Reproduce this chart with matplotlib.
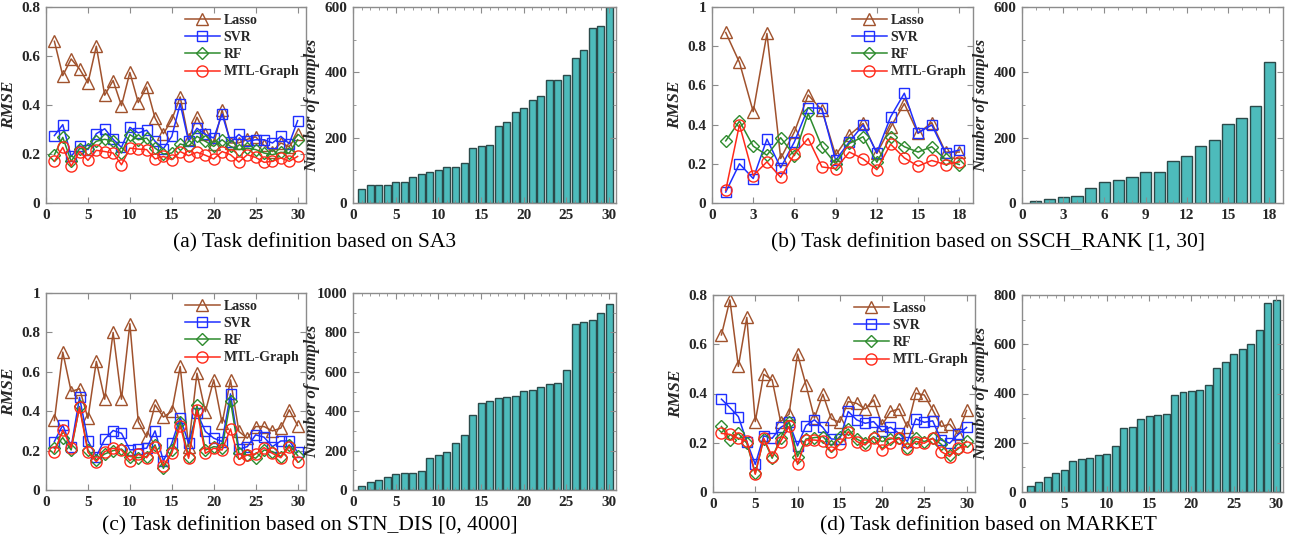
import numpy as np
import matplotlib
matplotlib.use("Agg")
import matplotlib.pyplot as plt
from matplotlib.ticker import MultipleLocator, FuncFormatter, AutoMinorLocator

plt.rcParams['font.family'] = ['Liberation Serif', 'DejaVu Serif']

methods = ["Lasso", "SVR", "RF", "MTL-Graph"]

# ---------- (a) SA3 ----------
a_lasso = [0.66, 0.52, 0.588, 0.547, 0.49, 0.64, 0.44, 0.50, 0.397, 0.533, 0.41, 0.473, 0.347, 0.283, 0.34,
           0.433, 0.26, 0.35, 0.28, 0.24, 0.38, 0.245, 0.245, 0.26, 0.27, 0.235, 0.21, 0.245, 0.23, 0.28]
a_svr = [0.275, 0.32, 0.19, 0.234, 0.218, 0.283, 0.303, 0.26, 0.227, 0.309, 0.286, 0.297, 0.252, 0.222, 0.272,
         0.405, 0.252, 0.305, 0.28, 0.265, 0.363, 0.248, 0.28, 0.252, 0.258, 0.258, 0.245, 0.272, 0.242, 0.336]
a_rf = [0.197, 0.268, 0.17, 0.222, 0.222, 0.252, 0.26, 0.252, 0.204, 0.279, 0.258, 0.265, 0.224, 0.2, 0.204,
        0.241, 0.231, 0.272, 0.252, 0.231, 0.258, 0.231, 0.218, 0.224, 0.218, 0.204, 0.197, 0.207, 0.204, 0.258]
a_mtl = [0.17, 0.227, 0.15, 0.21, 0.174, 0.215, 0.21, 0.204, 0.156, 0.224, 0.22, 0.218, 0.18, 0.19, 0.177,
         0.21, 0.193, 0.207, 0.195, 0.18, 0.21, 0.197, 0.167, 0.197, 0.186, 0.166, 0.17, 0.184, 0.17, 0.19]
a_samples = [44, 56, 56, 56, 64, 64, 79, 90, 96, 102, 111, 111, 121, 168, 174, 177, 236, 248, 278, 290,
             315, 328, 378, 378, 392, 444, 469, 537, 541, 600]

# ---------- (b) SSCH_RANK ----------
b_lasso = [0.87, 0.717, 0.466, 0.865, 0.227, 0.363, 0.551, 0.474, 0.244, 0.346, 0.406, 0.253, 0.387, 0.507,
           0.355, 0.41, 0.26, 0.26]
b_svr = [0.056, 0.2, 0.125, 0.326, 0.18, 0.312, 0.486, 0.483, 0.218, 0.312, 0.398, 0.256, 0.439, 0.56,
         0.358, 0.398, 0.253, 0.27]
b_rf = [0.317, 0.418, 0.29, 0.244, 0.333, 0.242, 0.457, 0.287, 0.2, 0.304, 0.338, 0.208, 0.338, 0.287,
        0.26, 0.287, 0.222, 0.196]
b_mtl = [0.065, 0.4, 0.14, 0.21, 0.131, 0.25, 0.329, 0.184, 0.175, 0.26, 0.225, 0.17, 0.3, 0.23,
         0.188, 0.217, 0.196, 0.21]
b_samples = [5, 11, 17, 20, 47, 64, 70, 79, 96, 96, 128, 143, 176, 192, 243, 261, 296, 433]

# ---------- (c) STN_DIS ----------
c_lasso = [0.353, 0.70, 0.50, 0.514, 0.364, 0.653, 0.461, 0.80, 0.461, 0.844, 0.347, 0.268, 0.432, 0.37, 0.40,
           0.627, 0.22, 0.593, 0.398, 0.559, 0.339, 0.559, 0.297, 0.263, 0.322, 0.322, 0.30, 0.314, 0.407, 0.327]
c_svr = [0.246, 0.33, 0.217, 0.47, 0.25, 0.17, 0.258, 0.302, 0.288, 0.203, 0.208, 0.212, 0.30, 0.147, 0.237,
         0.368, 0.237, 0.393, 0.297, 0.263, 0.246, 0.488, 0.207, 0.22, 0.28, 0.268, 0.22, 0.249, 0.249, 0.192]
c_rf = [0.212, 0.266, 0.203, 0.424, 0.203, 0.153, 0.183, 0.20, 0.208, 0.17, 0.164, 0.17, 0.229, 0.11, 0.203,
        0.347, 0.17, 0.429, 0.203, 0.22, 0.215, 0.453, 0.186, 0.178, 0.161, 0.203, 0.195, 0.17, 0.229, 0.175]
c_mtl = [0.192, 0.305, 0.215, 0.419, 0.192, 0.144, 0.195, 0.212, 0.203, 0.149, 0.181, 0.164, 0.22, 0.124, 0.186,
         0.327, 0.161, 0.407, 0.186, 0.212, 0.203, 0.31, 0.156, 0.178, 0.183, 0.215, 0.186, 0.164, 0.22, 0.141]
c_samples = [20, 40, 50, 67, 80, 85, 87, 97, 160, 178, 193, 241, 280, 383, 442, 453, 469, 471, 476, 502,
             507, 522, 536, 542, 608, 842, 853, 864, 897, 946]

# ---------- (d) MARKET ----------
d_lasso = [0.638, 0.78, 0.51, 0.709, 0.286, 0.478, 0.455, 0.286, 0.316, 0.56, 0.435, 0.30, 0.397, 0.297, 0.283,
           0.367, 0.36, 0.337, 0.374, 0.272, 0.327, 0.337, 0.262, 0.401, 0.394, 0.333, 0.266, 0.275, 0.234, 0.331]
d_svr = [0.377, 0.343, 0.306, 0.205, 0.112, 0.228, 0.218, 0.262, 0.283, 0.188, 0.27, 0.293, 0.262, 0.215, 0.215,
         0.327, 0.293, 0.279, 0.286, 0.249, 0.263, 0.238, 0.205, 0.297, 0.283, 0.289, 0.211, 0.198, 0.234, 0.262]
d_rf = [0.266, 0.211, 0.238, 0.198, 0.076, 0.215, 0.137, 0.221, 0.286, 0.144, 0.215, 0.221, 0.225, 0.188, 0.225,
        0.256, 0.215, 0.198, 0.225, 0.205, 0.215, 0.221, 0.178, 0.218, 0.205, 0.218, 0.194, 0.15, 0.175, 0.207]
d_mtl = [0.238, 0.234, 0.218, 0.207, 0.072, 0.218, 0.144, 0.205, 0.266, 0.112, 0.211, 0.211, 0.207, 0.164, 0.194,
         0.245, 0.205, 0.191, 0.221, 0.171, 0.198, 0.218, 0.175, 0.205, 0.198, 0.218, 0.164, 0.144, 0.18, 0.184]
d_samples = [24, 39, 62, 78, 89, 124, 135, 138, 150, 154, 185, 258, 262, 297, 308, 313, 318, 395, 406, 411,
             414, 433, 505, 529, 562, 582, 601, 657, 766, 778]

captions = ["(a) Task definition based on SA3",
            "(b) Task definition based on SSCH_RANK [1, 30]",
            "(c) Task definition based on STN_DIS [0, 4000]",
            "(d) Task definition based on MARKET"]

W, H = 1292, 550
fig = plt.figure(figsize=(W / 100, H / 100), dpi=100)


def rect(l, r, t, b):
    return [l / W, 1 - b / H, (r - l) / W, (b - t) / H]


styles = {
    "Lasso": dict(color="#A0522D", marker="^", ms=8.5),
    "SVR": dict(color="#1F2FFF", marker="s", ms=7),
    "RF": dict(color="#2E8B2E", marker="D", ms=6.5),
    "MTL-Graph": dict(color="#FF2A1A", marker="o", ms=8),
}

FRAME = "#8C8C8C"
TXT = "#262626"
fmt = FuncFormatter(lambda v, p: f"{v:g}")


def style_axes(ax):
    for s in ax.spines.values():
        s.set_color(FRAME)
        s.set_linewidth(1.0)
    ax.tick_params(which="both", direction="in", top=True, right=True, color=FRAME,
                   labelcolor=TXT, labelsize=11, pad=4)
    ax.tick_params(which="major", length=4)
    ax.tick_params(which="minor", length=2)
    for lab in ax.get_xticklabels() + ax.get_yticklabels():
        lab.set_fontweight("bold")


def line_panel(rc, series, xmax, xstep, ymax, ystep):
    ax = fig.add_axes(rc)
    n = len(series[0])
    x = np.arange(1, n + 1)
    for name, vals in zip(methods, series):
        st = styles[name]
        ax.plot(x, vals, color=st["color"], marker=st["marker"], ms=st["ms"],
                mfc="none", mec=st["color"], mew=1.0, lw=1.1, label=name)
    ax.set_xlim(0, xmax)
    ax.set_ylim(0, ymax)
    ax.xaxis.set_major_locator(MultipleLocator(xstep))
    ax.yaxis.set_major_locator(MultipleLocator(ystep))
    ax.yaxis.set_major_formatter(fmt)
    ax.set_ylabel("RMSE", fontsize=12.5, fontweight="bold", style="italic", color=TXT)
    ax.yaxis.set_label_coords(-0.112, 0.5)
    style_axes(ax)
    leg = ax.legend(loc="upper right", frameon=False, handlelength=2.5, handletextpad=0.25,
                    labelspacing=0.3, borderaxespad=0.25, borderpad=0.25,
                    prop=dict(family="Liberation Serif", weight="bold", size=10))
    for t in leg.get_texts():
        t.set_color(TXT)
    return ax


def bar_panel(rc, samples, xmax, xstep, ymax, ystep):
    ax = fig.add_axes(rc)
    x = np.arange(1, len(samples) + 1)
    ax.bar(x, samples, width=0.82, color="#4DBBBB", edgecolor="#2B4A4A", linewidth=1.0)
    ax.set_xlim(0, xmax)
    ax.set_ylim(0, ymax)
    ax.xaxis.set_major_locator(MultipleLocator(xstep))
    ax.yaxis.set_major_locator(MultipleLocator(ystep))
    ax.xaxis.set_minor_locator(MultipleLocator(1))
    ax.yaxis.set_minor_locator(AutoMinorLocator(2))
    ax.yaxis.set_major_formatter(fmt)
    ax.set_ylabel("Number of samples", fontsize=12, fontweight="bold", style="italic", color=TXT)
    ax.yaxis.set_label_coords(-0.125, 0.5)
    style_axes(ax)
    return ax


# top row
line_panel(rect(46, 306, 7, 203), [a_lasso, a_svr, a_rf, a_mtl], 31, 5, 0.8, 0.2)
bar_panel(rect(353, 616, 7, 203), a_samples, 30.8, 5, 600, 200)
line_panel(rect(712, 973, 7, 203), [b_lasso, b_svr, b_rf, b_mtl], 19, 3, 1.0, 0.2)
bar_panel(rect(1022, 1283, 7, 203), b_samples, 19, 3, 600, 200)

# bottom row
line_panel(rect(46, 306, 293, 490), [c_lasso, c_svr, c_rf, c_mtl], 31, 5, 1.0, 0.2)
bar_panel(rect(353, 616, 293, 490), c_samples, 30.8, 5, 1000, 200)
line_panel(rect(713, 975, 295, 492), [d_lasso, d_svr, d_rf, d_mtl], 31, 5, 0.8, 0.2)
bar_panel(rect(1022, 1283, 295, 492), d_samples, 30.8, 5, 800, 200)

cap_pos = [(315, 243), (988, 243), (310, 526), (988, 526)]
for (cx, cy), cap in zip(cap_pos, captions):
    fig.text(cx / W, 1 - cy / H, cap, ha="center", va="center", fontsize=15.5, color="black")

fig.savefig("out.png", dpi=100)
